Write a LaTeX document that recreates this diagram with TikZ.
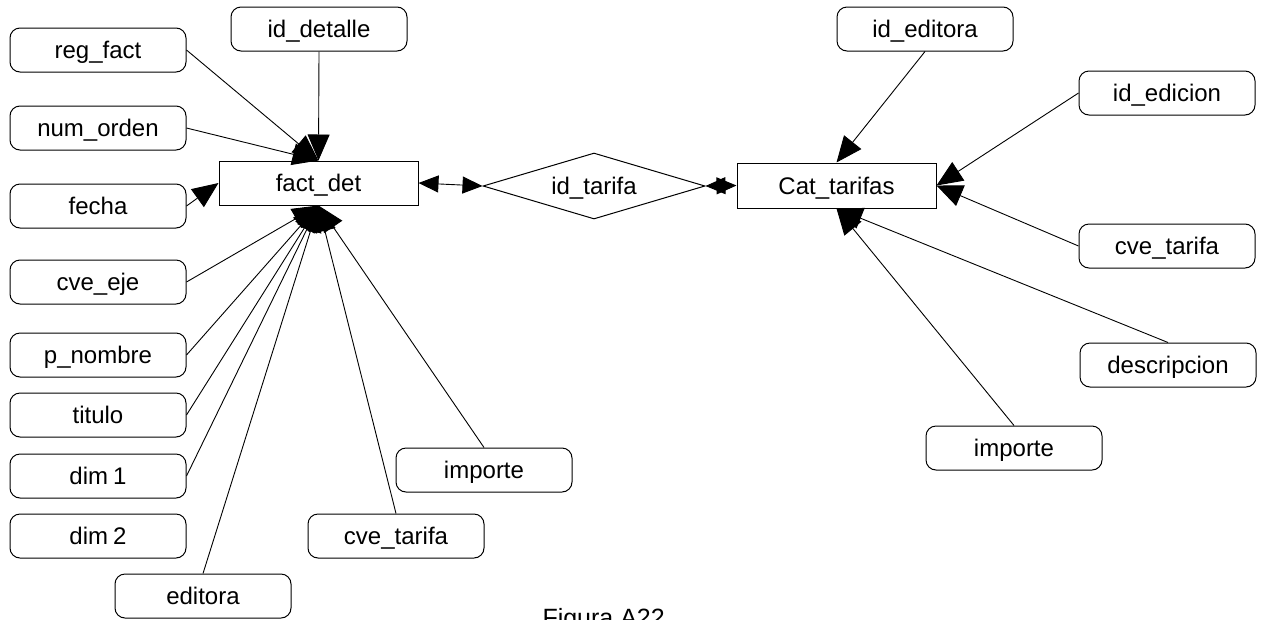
\documentclass[tikz,border=0pt]{standalone}
\usepackage{fontspec}
\setmainfont{Liberation Sans}
\usetikzlibrary{shapes.geometric,arrows.meta}
\begin{document}
\begin{tikzpicture}[x=1pt,y=-1pt,
  lbl/.style={font=\fontsize{24}{28}\selectfont, text height=17pt, text depth=0pt},
  attr/.style={lbl, draw, rounded corners=10pt, minimum width=176pt,
    minimum height=44pt, inner sep=0pt, line width=1pt},
  ent/.style={lbl, draw, minimum width=199pt, minimum height=44pt,
    inner sep=0pt, line width=1pt},
  rel/.style={lbl, draw, diamond, aspect=3.36, minimum width=222pt,
    minimum height=66pt, inner sep=0pt, line width=1pt},
  link/.style={line width=0.9pt, -{Triangle[length=26pt,width=22pt]}},
  both/.style={line width=0.9pt,
    {Triangle[length=20pt,width=17pt]}-{Triangle[length=20pt,width=17pt]}}
]
\useasboundingbox (0,0) rectangle (1263,619);

% entities and relationship
\node[ent] (fact) at (318.5,183) {fact\_det};
\node[rel] (rel)  at (594,186)   {id\_tarifa};
\node[ent, minimum height=45pt] (cat) at (836.5,185.5) {Cat\_tarifas};

% attributes of fact_det
\node[attr] (regfact)  at (98,50)   {reg\_fact};
\node[attr] (numorden) at (98,128)  {num\_orden};
\node[attr] (fecha)    at (98,206)  {fecha};
\node[attr] (cveeje)   at (98,282)  {cve\_eje};
\node[attr] (pnombre)  at (98,355)  {p\_nombre};
\node[attr] (titulo)   at (98,415)  {titulo};
\node[attr] (dimone)   at (98,476)  {dim\kern5pt 1};
\node[attr] (dimtwo)   at (98,536)  {dim\kern5pt 2};
\node[attr] (editora)  at (203,596) {editora};
\node[attr] (iddet)    at (319,29)  {id\_detalle};
\node[attr] (impl)     at (484,470) {importe};
\node[attr] (cvetl)    at (396,536) {cve\_tarifa};

% attributes of Cat_tarifas
\node[attr] (idedit)   at (925,29)   {id\_editora};
\node[attr] (idedic)   at (1167,93)  {id\_edicion};
\node[attr] (cvetr)    at (1167,246) {cve\_tarifa};
\node[attr] (descr)    at (1168,365) {descripcion};
\node[attr] (impr)     at (1014,448) {importe};

% connectors into fact_det
\draw[link] (regfact.east)  -- (fact.north);
\draw[link] (iddet.south)   -- (fact.north);
\draw[link] (numorden.east) -- (fact.north);
\draw[link] (fecha.east)    -- (fact.west);
\draw[link] (cveeje.east)   -- (fact.south);
\draw[link] (pnombre.east)  -- (fact.south);
\draw[link] (titulo.east)   -- (fact.south);
\draw[link] (dimone.east)   -- (fact.south);
\draw[link] (editora.north) -- (fact.south);
\draw[link] (cvetl.north)   -- (fact.south);
\draw[link] (impl.north)    -- (fact.south);

% connectors into Cat_tarifas
\draw[link] (idedit.south)  -- (cat.north);
\draw[link] (idedic.west)   -- (cat.east);
\draw[link] (cvetr.west)    -- (cat.east);
\draw[link] (descr.north)   -- (cat.south);
\draw[link] (impr.north)    -- (cat.south);

% relationship links
\draw[both] (fact.east) -- (rel.west);
\draw[both] (rel.east)  -- (cat.west);

% caption
\node[font=\fontsize{25}{30}\selectfont, anchor=base east, inner sep=0pt]
  (cap) at (665,626) {Figura A22};
\end{tikzpicture}
\end{document}
